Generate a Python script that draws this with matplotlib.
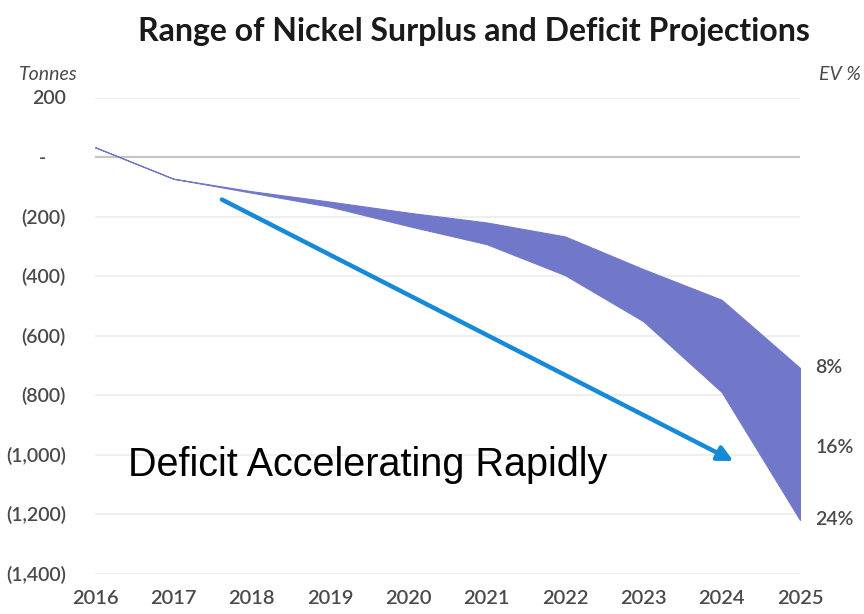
import matplotlib

matplotlib.use("Agg")
import matplotlib.pyplot as plt

# Projected nickel market balance ('000 tonnes), 2016-2025
years = [2016, 2017, 2018, 2019, 2020, 2021, 2022, 2023, 2024, 2025]
balance_high = [33, -73, -115, -150, -187, -220, -267, -377, -480, -709]
balance_low = [33, -73, -120, -167, -232, -293, -397, -552, -790, -1220]

y_ticks = [200, 0, -200, -400, -600, -800, -1000, -1200, -1400]
ev_labels = ["8%", "16%", "24%"]
ev_levels = [-709, -975, -1220]

band_color = "#7178c9"
arrow_color = "#168ad9"
tick_font = "Lato"


def fmt_tonnes(v):
    if v == 0:
        return "-    "
    if v < 0:
        return f"({abs(v):,})"
    return f"{v:,}"


fig = plt.figure(figsize=(8.64, 6.14), dpi=100)
ax = fig.add_axes([95 / 864, 1 - 573.5 / 614, 705 / 864, 476 / 614])

ax.fill_between(years, balance_high, balance_low, color=band_color, lw=0.8,
                edgecolor=band_color, zorder=3)

ax.set_xlim(2016, 2025)
ax.set_ylim(-1400, 200)
ax.set_yticks(y_ticks)
ax.set_yticklabels([fmt_tonnes(v) for v in y_ticks])
ax.set_xticks(years)
ax.set_xticklabels([str(y) for y in years])

for v in y_ticks:
    if v == 0:
        ax.axhline(v, color="#c6c6c6", lw=1.6, zorder=2)
    else:
        ax.axhline(v, color="#ececec", lw=1.2, zorder=1)

for side in ["top", "right", "left", "bottom"]:
    ax.spines[side].set_visible(False)
ax.tick_params(axis="both", length=0, labelsize=14, labelcolor="#4a4a4a")
ax.tick_params(axis="y", pad=21)
ax.tick_params(axis="x", pad=12, labelsize=14.5)
for lbl in ax.get_xticklabels() + ax.get_yticklabels():
    lbl.set_family(tick_font)
    lbl.set_fontweight("semibold")

fig.text(474 / 864, 1 - 31 / 614, "Range of Nickel Surplus and Deficit Projections",
         ha="center", va="center", fontsize=23, fontweight="bold",
         family=tick_font, color="#1a1a1a")
fig.text(48 / 864, 1 - 75 / 614, "Tonnes", ha="center", va="center",
         fontsize=14, style="italic", family=tick_font, color="#4a4a4a")
fig.text(840 / 864, 1 - 75 / 614, "EV %", ha="center", va="center",
         fontsize=14, style="italic", family=tick_font, color="#4a4a4a")

for lbl, lvl in zip(ev_labels, ev_levels):
    ax.annotate(lbl, xy=(2025, lvl), xytext=(11, 0), textcoords="offset points",
                ha="left", va="center", fontsize=14, family=tick_font,
                fontweight="semibold", color="#4a4a4a", annotation_clip=False)

ax.annotate("", xy=(2024.15, -1022), xytext=(2017.62, -143),
            arrowprops=dict(arrowstyle="-|>,head_length=0.9,head_width=0.45",
                            color=arrow_color, lw=3.2, shrinkA=0, shrinkB=0),
            zorder=5)
ax.text(2016.42, -1072, "Deficit Accelerating Rapidly", ha="left",
        va="baseline", fontsize=28.5, family="Liberation Sans", color="#000000",
        zorder=6)

fig.savefig("out.png", dpi=100)
